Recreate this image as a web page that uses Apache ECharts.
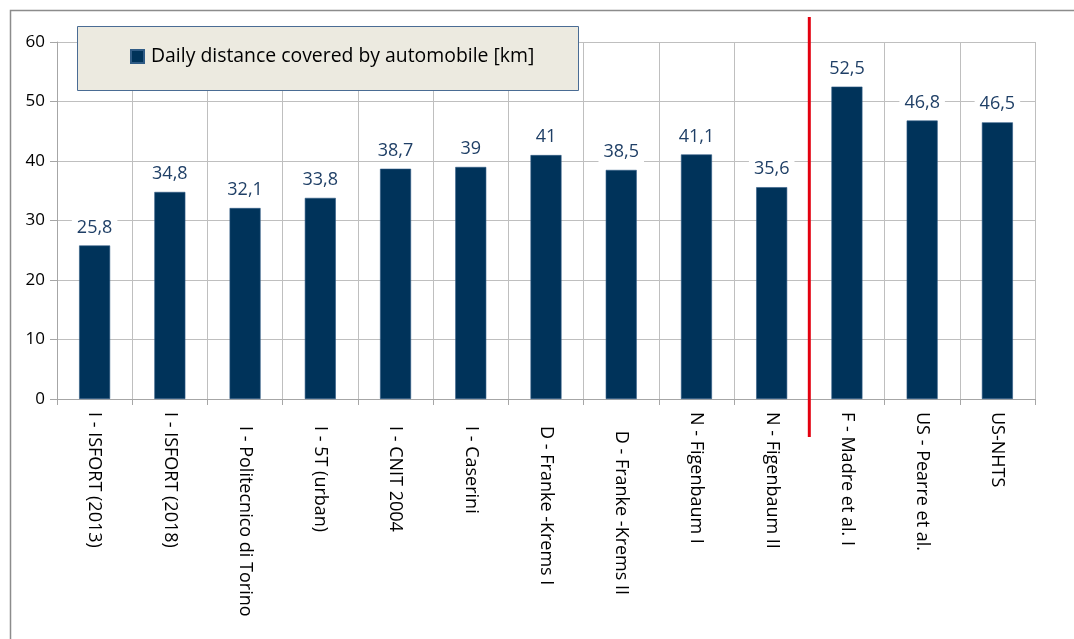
<!DOCTYPE html>
<html>
<head>
<meta charset="utf-8">
<script src="https://cdn.jsdelivr.net/npm/echarts@6/dist/echarts.min.js"></script>
<style>
html,body{margin:0;padding:0;background:#fff;}
#c{width:1074px;height:639px;}
</style>
</head>
<body>
<div id="c"></div>
<script>
const categories = [
  'I - ISFORT (2013)', 'I - ISFORT (2018)', '   I - Politecnico di Torino', '   I - 5T (urban)',
  '   I - CNIT 2004', '   I - Caserini', '   D - Franke -Krems I', '    D - Franke -Krems II',
  'N - Figenbaum I', 'N - Figenbaum II', 'F - Madre et al. I', 'US - Pearre et al.', 'US-NHTS'
];
const values = [25.8, 34.8, 32.1, 33.8, 38.7, 39, 41, 38.5, 41.1, 35.6, 52.5, 46.8, 46.5];
const seriesName = 'Daily distance covered by automobile [km]';
const yTicks = { min: 0, max: 60, interval: 10 };
const separatorAfterIndex = 9; // red line between 'N - Figenbaum II' and 'F - Madre et al. I'

const FONT = '"Open Sans", "Noto Sans", sans-serif';
const chart = echarts.init(document.getElementById('c'));
const option = {
  animation: false,
  backgroundColor: '#ffffff',
  grid: { left: 57, right: 39, top: 42, bottom: 240, containLabel: false },
  legend: {
    show: true,
    left: 130, top: 47,
    padding: 0,
    itemWidth: 13, itemHeight: 13, itemGap: 6,
    icon: 'rect',
    textStyle: { fontFamily: FONT, fontSize: 19.4, color: '#000', padding: [0, 0, 0, 2] },
    data: [seriesName],
    z: 20
  },
  xAxis: {
    type: 'category',
    data: categories,
    boundaryGap: true,
    axisLine: { lineStyle: { color: '#A6A6A6', width: 1 } },
    axisTick: { show: true, length: 6, lineStyle: { color: '#A6A6A6' } },
    splitLine: { show: true, lineStyle: { color: '#BFBFBF', width: 1 } },
    axisLabel: {
      rotate: -90, margin: 13, interval: 0,
      fontFamily: FONT, fontSize: 18, color: '#000'
    }
  },
  yAxis: {
    type: 'value',
    min: yTicks.min, max: yTicks.max, interval: yTicks.interval,
    axisLine: { show: true, lineStyle: { color: '#A6A6A6' } },
    axisTick: { show: true, length: 7, lineStyle: { color: '#A6A6A6' } },
    splitLine: { show: true, lineStyle: { color: '#BFBFBF', width: 1 } },
    axisLabel: { margin: 12, fontFamily: FONT, fontSize: 17, color: '#000' }
  },
  series: [{
    name: seriesName,
    type: 'bar',
    data: values,
    barWidth: 31,
    itemStyle: { color: '#00335A', borderColor: '#2F5B85', borderWidth: 0.6 },
    label: {
      show: true, position: 'top', distance: 8,
      fontFamily: FONT, fontSize: 18, color: '#1F3F66',
      backgroundColor: '#ffffff', padding: [1, 5],
      formatter: p => String(p.value).replace('.', ',')
    }
  }]
};
chart.setOption(option);

// decorations: outer chart border, legend box and red separator, positioned from axis scales
const a = chart.convertToPixel({ xAxisIndex: 0 }, separatorAfterIndex);
const b = chart.convertToPixel({ xAxisIndex: 0 }, separatorAfterIndex + 1);
const sepX = (a + b) / 2;
const yTop = chart.convertToPixel({ yAxisIndex: 0 }, yTicks.max);
const yBottom = chart.convertToPixel({ yAxisIndex: 0 }, yTicks.min);
chart.setOption({
  graphic: [
    { type: 'rect', shape: { x: 10.5, y: 10.5, width: 1100, height: 700 },
      style: { fill: 'none', stroke: '#8C8C8C', lineWidth: 1.5 }, z: 0, silent: true },
    { type: 'rect', shape: { x: 77.5, y: 26.5, width: 501, height: 64 },
      style: { fill: '#ECEAE0', stroke: '#4A6C94', lineWidth: 1 }, z: 10, silent: true },
    { type: 'line', shape: { x1: sepX, y1: yTop - 25, x2: sepX, y2: yBottom + 38 },
      style: { stroke: '#E3000F', lineWidth: 3 }, z: 100, silent: true }
  ]
});
</script>
</body>
</html>
